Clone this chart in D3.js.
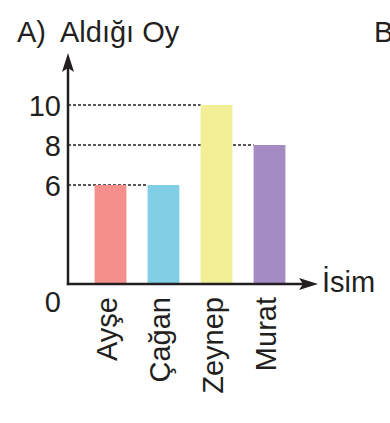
<!DOCTYPE html>
<html>
<head>
<meta charset="utf-8">
<script src="https://cdn.jsdelivr.net/npm/d3@7"></script>
<style>
  body { margin: 0; background: #fff; }
  text { font-family: "Liberation Sans", Arial, sans-serif; fill: #231f20; }
</style>
</head>
<body>
<script>
// Data
var names = ["Ayşe", "Çağan", "Zeynep", "Murat"];
var votes = [6, 6, 10, 8];
var colors = ["#f58f8b", "#80cfe4", "#f3ef97", "#a58bc3"];
var yTicks = [6, 8, 10];

var W = 390, H = 423;
var axisX = 68, axisY = 284;
var fs = "29px";

var svg = d3.select("body").append("svg")
    .attr("width", W)
    .attr("height", H);

// scales
var x = d3.scaleBand()
    .domain(names)
    .range([84, 296])
    .paddingInner(0.4)
    .paddingOuter(0.2);

var y = d3.scaleLinear()
    .domain([0, 10])
    .range([305, 105]);

// dashed guides (behind bars)
svg.selectAll(".guide").data(yTicks).enter()
  .append("line")
    .attr("class", "guide")
    .attr("x1", axisX)
    .attr("x2", function(t) {
      var last = -1;
      votes.forEach(function(v, i) { if (v === t) last = i; });
      return x(names[last]);
    })
    .attr("y1", function(t) { return y(t); })
    .attr("y2", function(t) { return y(t); })
    .attr("stroke", "#231f20")
    .attr("stroke-width", 1.4)
    .style("stroke-dasharray", "3, 2");

// bars
svg.selectAll(".bar").data(votes).enter()
  .append("rect")
    .attr("class", "bar")
    .attr("x", function(d, i) { return x(names[i]); })
    .attr("width", x.bandwidth())
    .attr("y", function(d) { return y(d); })
    .attr("height", function(d) { return axisY - y(d); })
    .style("fill", function(d, i) { return colors[i]; });

// y tick labels
svg.selectAll(".ytick").data(yTicks).enter()
  .append("text")
    .attr("class", "ytick")
    .attr("x", 61)
    .attr("y", function(t) { return y(t); })
    .attr("dy", "0.38em")
    .attr("text-anchor", "end")
    .style("font-size", fs)
    .text(function(t) { return t; });

svg.append("text")
    .attr("x", 61)
    .attr("y", 312)
    .attr("text-anchor", "end")
    .style("font-size", fs)
    .text("0");

// x category labels
svg.selectAll(".xlab").data(names).enter()
  .append("text")
    .attr("class", "xlab")
    .attr("transform", function(d) {
      return "translate(" + (x(d) + x.bandwidth() / 2 + 6) + ",297) rotate(-90)";
    })
    .attr("text-anchor", "end")
    .style("font-size", fs)
    .text(function(d) { return d; });

// axes with arrows
svg.append("line")
    .attr("x1", axisX).attr("y1", axisY + 1.2)
    .attr("x2", axisX).attr("y2", 66)
    .attr("stroke", "#231f20").attr("stroke-width", 2.5);
svg.append("line")
    .attr("x1", axisX - 1.2).attr("y1", axisY)
    .attr("x2", 306).attr("y2", axisY)
    .attr("stroke", "#231f20").attr("stroke-width", 2.5);

svg.append("path")
    .attr("d", "M" + axisX + ",53 L" + (axisX + 6) + ",72 L" + axisX + ",68 L" + (axisX - 6) + ",72 Z")
    .style("fill", "#231f20");
svg.append("path")
    .attr("d", "M318," + axisY + " L299," + (axisY - 6) + " L303," + axisY + " L299," + (axisY + 6) + " Z")
    .style("fill", "#231f20");

// titles
svg.append("text")
    .attr("x", 17)
    .attr("y", 42)
    .style("font-size", fs)
    .text("A)");
svg.append("text")
    .attr("x", 60)
    .attr("y", 42)
    .style("font-size", fs)
    .text("Aldığı Oy");

svg.append("text")
    .attr("x", 322)
    .attr("y", 292)
    .style("font-size", fs)
    .text("İsim");

// next panel's letter, cut by the right edge as in the reference
svg.append("text")
    .attr("x", 374)
    .attr("y", 42)
    .style("font-size", fs)
    .text("B");
</script>
</body>
</html>
